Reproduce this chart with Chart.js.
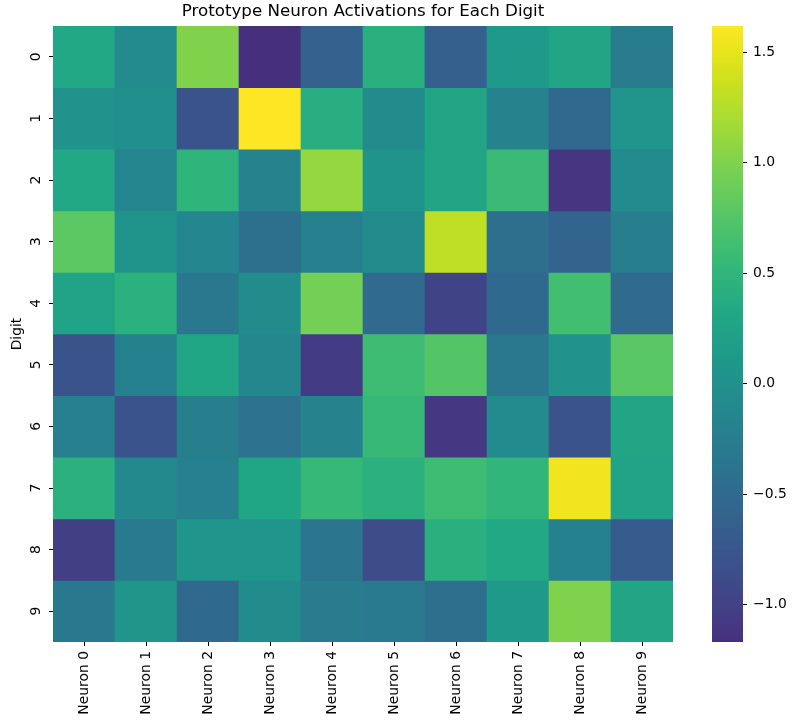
<!DOCTYPE html>
<html>
<head>
<meta charset="utf-8">
<script src="https://cdn.jsdelivr.net/npm/chart.js@4.4.1/dist/chart.umd.min.js"></script>
<style>
  body { margin: 0; background: #fff; }
  #wrap { position: relative; width: 805px; height: 726px; }
  #heat { position: absolute; left: 0; top: 0; }
  #cbar { position: absolute; left: 690px; top: 0; }
</style>
</head>
<body>
<div id="wrap">
  <canvas id="heat" width="700" height="726" style="width:700px;height:726px"></canvas>
  <canvas id="cbar" width="115" height="726" style="width:115px;height:726px"></canvas>
</div>
<script>
// values, one array per digit row
const NEURONS = ['Neuron 0', 'Neuron 1', 'Neuron 2', 'Neuron 3', 'Neuron 4',
                 'Neuron 5', 'Neuron 6', 'Neuron 7', 'Neuron 8', 'Neuron 9'];
const DIGITS = ['0', '1', '2', '3', '4', '5', '6', '7', '8', '9'];

const DIGIT_0 = [0.33, -0.08, 1.00, -1.17, -0.62, 0.42, -0.64, 0.12, 0.28, -0.28];
const DIGIT_1 = [0.02, -0.02, -0.78, 1.62, 0.40, -0.06, 0.28, -0.18, -0.54, 0.06];
const DIGIT_2 = [0.32, -0.15, 0.48, -0.18, 1.10, 0.05, 0.28, 0.58, -1.12, -0.07];
const DIGIT_3 = [0.80, 0.04, -0.14, -0.43, -0.22, -0.06, 1.30, -0.45, -0.58, -0.23];
const DIGIT_4 = [0.26, 0.44, -0.33, -0.06, 0.93, -0.50, -0.98, -0.52, 0.63, -0.50];
const DIGIT_5 = [-0.80, -0.20, 0.30, -0.12, -1.05, 0.60, 0.75, -0.32, 0.02, 0.78];
const DIGIT_6 = [-0.22, -0.80, -0.23, -0.40, -0.18, 0.55, -1.10, -0.08, -0.80, 0.28];
const DIGIT_7 = [0.45, -0.10, -0.22, 0.30, 0.54, 0.45, 0.60, 0.50, 1.55, 0.26];
const DIGIT_8 = [-1.02, -0.30, 0.06, 0.06, -0.36, -0.88, 0.42, 0.32, -0.20, -0.68];
const DIGIT_9 = [-0.32, 0.08, -0.52, -0.06, -0.28, -0.30, -0.45, 0.12, 1.00, 0.28];

const ACTIVATIONS = [DIGIT_0, DIGIT_1, DIGIT_2, DIGIT_3, DIGIT_4,
                     DIGIT_5, DIGIT_6, DIGIT_7, DIGIT_8, DIGIT_9];
const CBAR_TICKS = [-1.0, -0.5, 0.0, 0.5, 1.0, 1.5];

// viridis, sampled every 0.05
const VIRIDIS = ['#440154', '#471365', '#482475', '#463480', '#414487', '#3b528b',
  '#355f8d', '#2f6c8e', '#2a788e', '#25848e', '#21918c', '#1e9c89', '#22a884',
  '#2fb47c', '#44bf70', '#5ec962', '#7ad151', '#9bd93c', '#bddf26', '#dfe318', '#fde725'];

var allValues = [].concat.apply([], ACTIVATIONS);
var vmin = Math.min.apply(null, allValues);
var vmax = Math.max.apply(null, allValues);
// the map is centred on zero, so only the part above -vrange is used
var vrange = Math.max(Math.abs(vmin), Math.abs(vmax));

function hexToRgb(h) {
  return [parseInt(h.substr(1, 2), 16), parseInt(h.substr(3, 2), 16), parseInt(h.substr(5, 2), 16)];
}

function viridis(t) {
  t = Math.max(0, Math.min(1, t));
  var pos = t * (VIRIDIS.length - 1);
  var i = Math.min(Math.floor(pos), VIRIDIS.length - 2);
  var f = pos - i;
  var a = hexToRgb(VIRIDIS[i]);
  var b = hexToRgb(VIRIDIS[i + 1]);
  var c = a.map((v, k) => Math.round(v + (b[k] - v) * f));
  return 'rgb(' + c[0] + ',' + c[1] + ',' + c[2] + ')';
}

function colorFor(v) {
  return viridis((v + vrange) / (2 * vrange));
}

function fmtTick(v) {
  return (v < 0 ? '\u2212' : '') + Math.abs(v).toFixed(1);
}

Chart.defaults.font.family = "'DejaVu Sans', sans-serif";
Chart.defaults.color = '#000';

var tickFont = { size: 13.9 };

// every digit row is one stacked segment per neuron, coloured by its value
var datasets = ACTIVATIONS.map((row, r) => ({
  label: DIGITS[r],
  data: row.map(() => 1),
  backgroundColor: row.map(v => colorFor(v)),
  borderWidth: 0,
  barPercentage: 1,
  categoryPercentage: 1
}));

new Chart(document.getElementById('heat'), {
  type: 'bar',
  data: { labels: NEURONS, datasets: datasets },
  options: {
    responsive: false,
    animation: false,
    layout: { padding: { left: 0, right: 27, top: 0, bottom: 0 } },
    plugins: {
      legend: { display: false },
      tooltip: { enabled: false },
      title: {
        display: true,
        text: 'Prototype Neuron Activations for Each Digit',
        fullSize: false,
        font: { size: 16.7, weight: 'normal' },
        padding: { top: 2, bottom: 4 }
      }
    },
    scales: {
      x: {
        stacked: true,
        grid: { display: true, drawOnChartArea: false, drawTicks: true, tickLength: 4, offset: false, color: '#000' },
        border: { display: false },
        ticks: { font: tickFont, minRotation: 90, maxRotation: 90, autoSkip: false, padding: 5 },
        afterFit: function(scale) { scale.height = 84; }
      },
      y: {
        type: 'linear',
        stacked: true,
        min: 0,
        max: 10,
        reverse: true,
        grid: { display: true, drawOnChartArea: false, drawTicks: true, tickLength: 4, color: '#000' },
        border: { display: false },
        afterBuildTicks: function(scale) {
          scale.ticks = DIGITS.map((d, i) => ({ value: i + 0.5 }));
        },
        ticks: {
          font: tickFont,
          minRotation: 90,
          maxRotation: 90,
          crossAlign: 'center',
          padding: 8,
          callback: function(value, index) { return DIGITS[index]; }
        },
        title: {
          display: true,
          text: 'Digit',
          font: { size: 13.9 },
          padding: { top: 9, bottom: 0 }
        },
        afterFit: function(scale) { scale.width = 53; }
      }
    }
  }
});

// colour bar: one floating bar spanning the data range, filled with the map
new Chart(document.getElementById('cbar'), {
  type: 'bar',
  data: {
    labels: ['scale'],
    datasets: [{
      data: [[vmin, vmax]],
      borderWidth: 0,
      barPercentage: 1,
      categoryPercentage: 1,
      backgroundColor: function(ctx) {
        var chart = ctx.chart;
        if (!chart.chartArea) return null;
        var y = chart.scales.y;
        var g = chart.ctx.createLinearGradient(0, y.getPixelForValue(vmin), 0, y.getPixelForValue(vmax));
        var steps = 40;
        for (var i = 0; i <= steps; i++) {
          var v = vmin + (vmax - vmin) * i / steps;
          g.addColorStop(i / steps, colorFor(v));
        }
        return g;
      }
    }]
  },
  options: {
    responsive: false,
    animation: false,
    layout: { padding: { left: 22, right: 0, top: 26, bottom: 84 } },
    plugins: { legend: { display: false }, tooltip: { enabled: false } },
    scales: {
      x: { display: false },
      y: {
        position: 'right',
        min: vmin,
        max: vmax,
        grid: { display: true, drawOnChartArea: false, drawTicks: true, tickLength: 4, color: '#000' },
        border: { display: false },
        afterBuildTicks: function(scale) {
          scale.ticks = CBAR_TICKS.map(v => ({ value: v }));
        },
        ticks: { font: tickFont, padding: 6, callback: v => fmtTick(v) },
        afterFit: function(scale) { scale.width = 62; }
      }
    }
  }
});
</script>
</body>
</html>
